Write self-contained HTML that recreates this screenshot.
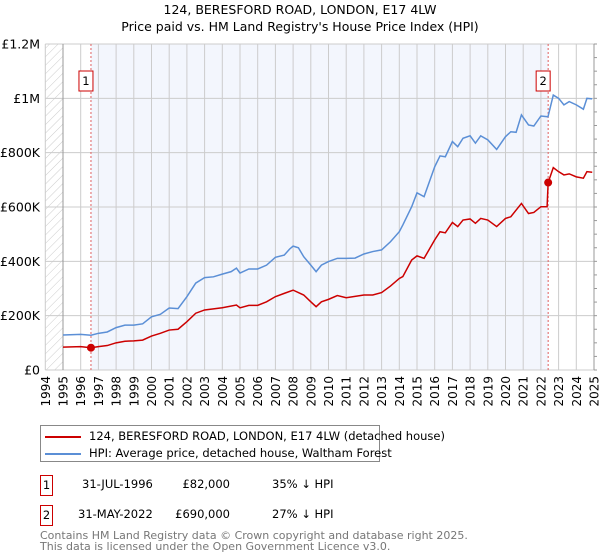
<!DOCTYPE html>
<html><head><meta charset="utf-8"><style>
body{margin:0;background:#fff;font-family:"Liberation Sans","DejaVu Sans",sans-serif}
#wrap{position:relative;width:600px;height:560px;overflow:hidden}
</style></head><body><div id="wrap">
<svg id="chart" width="600" height="560" style="font-family:'DejaVu Sans','Liberation Sans',sans-serif">
<defs><pattern id="hatch" width="6" height="6" patternUnits="userSpaceOnUse" patternTransform="rotate(45)"><line x1="0" y1="0" x2="0" y2="6" stroke="#ccc" stroke-width="1"/></pattern></defs>
<text x="300" y="14" text-anchor="middle" font-size="12.5">124, BERESFORD ROAD, LONDON, E17 4LW</text>
<text x="300" y="31" text-anchor="middle" font-size="12.5">Price paid vs. HM Land Registry's House Price Index (HPI)</text>
<g id="plot"></g>
</svg>
<div style="position:absolute;left:40px;top:425px;width:338px;height:35px;border:1px solid #888;font-size:11.5px;font-family:'DejaVu Sans',sans-serif">
<div style="position:absolute;left:4px;top:3px;white-space:nowrap"><span style="display:inline-block;width:36px;height:2px;background:#cc0000;vertical-align:middle;margin-right:8px"></span>124, BERESFORD ROAD, LONDON, E17 4LW (detached house)</div>
<div style="position:absolute;left:4px;top:20px;white-space:nowrap"><span style="display:inline-block;width:36px;height:2px;background:#5b8fd6;vertical-align:middle;margin-right:8px"></span>HPI: Average price, detached house, Waltham Forest</div>
</div>
<div style="font-size:11.5px;font-family:'DejaVu Sans',sans-serif">
<div style="position:absolute;left:40px;top:475px;width:11px;height:19px;border:1px solid #cc0000;text-align:center;line-height:19px">1</div>
<div style="position:absolute;left:82px;top:477px">31-JUL-1996</div>
<div style="position:absolute;right:370px;top:477px">£82,000</div>
<div style="position:absolute;left:272px;top:477px">35% ↓ HPI</div>
<div style="position:absolute;left:40px;top:505px;width:11px;height:19px;border:1px solid #cc0000;text-align:center;line-height:19px">2</div>
<div style="position:absolute;left:78px;top:507px">31-MAY-2022</div>
<div style="position:absolute;right:370px;top:507px">£690,000</div>
<div style="position:absolute;left:272px;top:507px">27% ↓ HPI</div>
</div>
<div style="position:absolute;left:40px;top:530px;font-size:11px;color:#777;line-height:11px;font-family:'DejaVu Sans',sans-serif">Contains HM Land Registry data © Crown copyright and database right 2025.<br>This data is licensed under the Open Government Licence v3.0.</div>
</div>
<script>
const hpiDates=[1995,1996,1996.58,1997,1997.5,1998,1998.5,1999,1999.5,2000,2000.5,2001,2001.5,2002,2002.5,2003,2003.5,2004,2004.5,2004.8,2005,2005.5,2006,2006.5,2007,2007.5,2007.8,2008,2008.3,2008.6,2009,2009.3,2009.6,2010,2010.5,2011,2011.5,2012,2012.5,2013,2013.5,2014,2014.2,2014.7,2015,2015.4,2016,2016.3,2016.6,2017,2017.3,2017.6,2018,2018.3,2018.6,2019,2019.5,2020,2020.3,2020.6,2020.9,2021.3,2021.6,2022,2022.4,2022.7,2023,2023.3,2023.6,2024,2024.4,2024.6,2024.9];
const hpiValues=[129,131,128,135,140,156,165,165,170,196,205,228,226,270,320,340,343,353,362,375,357,372,372,386,415,423,445,456,450,417,386,362,386,399,411,411,412,427,436,442,472,509,534,601,652,638,748,788,785,841,822,853,862,835,862,847,812,859,877,875,939,902,898,935,932,1012,1000,976,988,976,960,1000,998];
const priceDates=[1995,1996,1996.58,1997,1997.5,1998,1998.5,1999,1999.5,2000,2000.5,2001,2001.5,2002,2002.5,2003,2004,2004.8,2005,2005.5,2006,2006.5,2007,2007.5,2008,2008.6,2009,2009.3,2009.6,2010,2010.5,2011,2012,2012.5,2013,2013.5,2014,2014.2,2014.7,2015,2015.4,2016,2016.3,2016.6,2017,2017.3,2017.6,2018,2018.3,2018.6,2019,2019.5,2020,2020.3,2020.9,2021.3,2021.6,2022,2022.35,2022.41,2022.7,2023,2023.3,2023.6,2024,2024.4,2024.6,2024.9];
const priceValues=[84,86,82,86,90,100,106,107,110,125,135,147,150,178,209,221,229,239,229,238,238,251,270,282,294,276,251,233,251,260,274,266,276,276,285,309,337,344,405,420,411,479,509,505,543,528,552,556,540,558,552,528,558,564,613,576,580,601,601,690,745,730,718,722,711,706,730,728];
const saleDates=[1996.58,2022.41];
const saleValues=[82,690];
const saleLabels=["1","2"];
const yTicks=[0,200,400,600,800,1000,1200];
const yTickLabels=["£0","£200K","£400K","£600K","£800K","£1M","£1.2M"];
const xYears=[1994,1995,1996,1997,1998,1999,2000,2001,2002,2003,2004,2005,2006,2007,2008,2009,2010,2011,2012,2013,2014,2015,2016,2017,2018,2019,2020,2021,2022,2023,2024,2025];

const X0=45.3,XW=17.7,Y0=370,YT=44;
const xs=y=>X0+(y-1994)*XW;
const ys=v=>Y0-v/1200*(Y0-YT);
const NS="http://www.w3.org/2000/svg";
const g=document.getElementById('plot');
function mk(t,a){const e=document.createElementNS(NS,t);for(const k in a)e.setAttribute(k,a[k]);g.appendChild(e);return e;}
const L=xs(1994),R=xs(2025);
let e;
e=mk('rect',{x:xs(saleDates[0]),y:YT,width:xs(saleDates[1])-xs(saleDates[0]),height:Y0-YT,fill:'#f3f6fd'});


e=mk('rect',{x:L,y:YT,width:xs(1995)-L,height:Y0-YT,fill:'url(#hatch)'});


xYears.forEach(yr=>{
  const l=mk('line',{x1:xs(yr),x2:xs(yr),y1:YT,y2:Y0,stroke:'#ccc','stroke-width':1});
  
  
  const t=mk('text',{x:0,y:0,'font-size':12,'text-anchor':'end',transform:`translate(${xs(yr)+4.5},376) rotate(-90)`});
  t.textContent=yr;
  
  
});
yTicks.forEach((v,i)=>{
  const l=mk('line',{x1:L,x2:R,y1:ys(v),y2:ys(v),stroke:'#ccc','stroke-width':1});
  
  
  const t=mk('text',{x:40,y:ys(v)+4.5,'font-size':12.5,'text-anchor':'end'});
  t.textContent=yTickLabels[i];
  
  
});
e=mk('line',{x1:xs(1995),x2:xs(1995),y1:YT,y2:Y0,stroke:'#999'});


e=mk('line',{x1:R,x2:R,y1:YT,y2:Y0,stroke:'#999'});


for(let v=0;v<=1200;v+=50){const m=mk('line',{x1:R,x2:R+3,y1:ys(v),y2:ys(v),stroke:'#999'});

}
saleDates.forEach((d,i)=>{
  const l=mk('line',{x1:xs(d),x2:xs(d),y1:YT,y2:Y0,stroke:'#e06060','stroke-dasharray':'2,2'});
  
  
  const b=mk('rect',{x:xs(d)-12,y:71,width:14,height:20,fill:'#fff',stroke:'#cc0000'});
  
  
  const t=mk('text',{x:xs(d)-5,y:85,'font-size':11.5,'text-anchor':'middle'});
  t.textContent=saleLabels[i];
  
  
});
e=mk('polyline',{points:hpiDates.map((d,i)=>xs(d)+','+ys(hpiValues[i])).join(' '),fill:'none',stroke:'#5b8fd6','stroke-width':1.5});


e=mk('polyline',{points:priceDates.map((d,i)=>xs(d)+','+ys(priceValues[i])).join(' '),fill:'none',stroke:'#cc0000','stroke-width':1.5});


saleDates.forEach((d,i)=>{
  const c=mk('circle',{cx:xs(d),cy:ys(saleValues[i]),r:4,fill:'#cc0000'});
  
  
});
</script>
</body></html>
